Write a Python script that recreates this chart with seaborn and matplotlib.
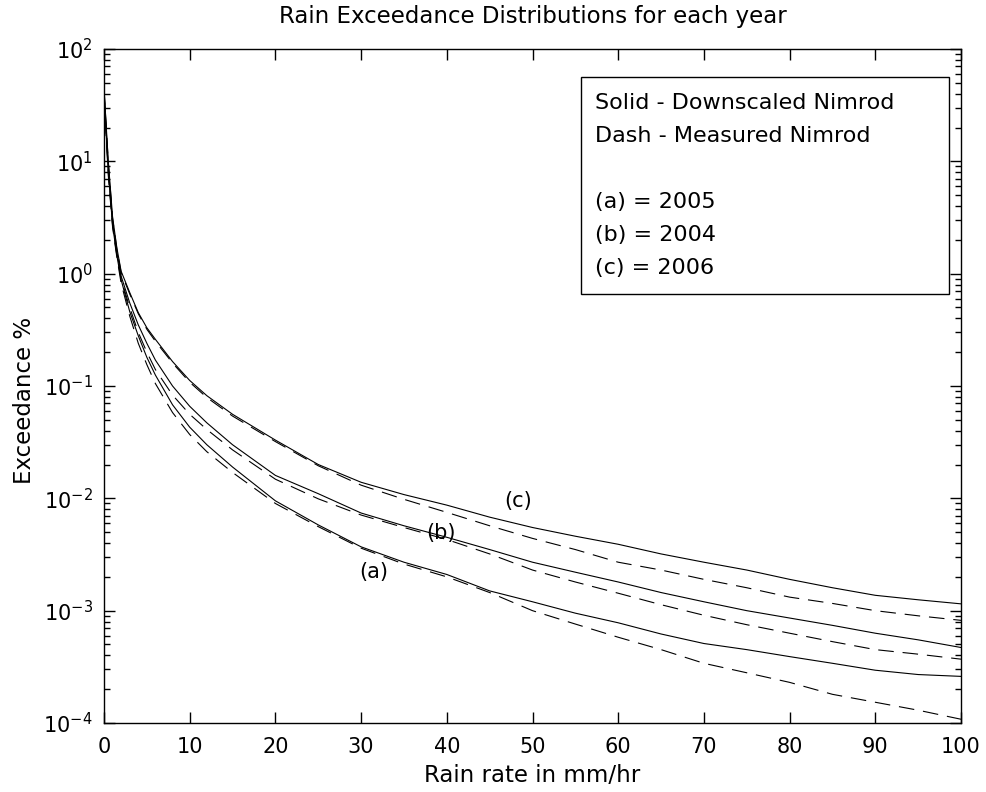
import numpy as np
import pandas as pd
import matplotlib
matplotlib.use("Agg")
import matplotlib.pyplot as plt
import seaborn as sns
from matplotlib.patches import Rectangle
from matplotlib.ticker import FixedLocator, FixedFormatter, NullFormatter

# ---------------- data ----------------
rain_rate = [0, 0.5, 1, 1.5, 2, 3, 4, 5, 6, 8, 10, 12, 15, 20, 25, 30, 35, 40,
             45, 50, 55, 60, 65, 70, 75, 80, 85, 90, 95, 100]

c_solid = [45, 10, 3.2, 1.7, 1.05, 0.68, 0.45, 0.33, 0.26, 0.165, 0.112, 0.082,
           0.056, 0.033, 0.020, 0.0139, 0.0108, 0.0087, 0.0068, 0.0055, 0.0046,
           0.0039, 0.0032, 0.0027, 0.0023, 0.0019, 0.0016, 0.00137, 0.00125, 0.00115]
c_dash = [44, 9.8, 3.1, 1.65, 1.02, 0.66, 0.44, 0.32, 0.25, 0.16, 0.108, 0.079,
          0.054, 0.032, 0.0195, 0.0131, 0.0098, 0.0075, 0.0057, 0.0044, 0.0035,
          0.0027, 0.0023, 0.0019, 0.0016, 0.00132, 0.00116, 0.00100, 0.00090, 0.00082]
b_solid = [42, 9, 2.9, 1.55, 0.95, 0.55, 0.35, 0.24, 0.17, 0.10, 0.066, 0.047,
           0.030, 0.016, 0.011, 0.0074, 0.0057, 0.0045, 0.0035, 0.0027, 0.0022,
           0.0018, 0.00145, 0.0012, 0.0010, 0.00086, 0.00074, 0.00063, 0.00055, 0.00047]
b_dash = [40, 8.5, 2.8, 1.5, 0.90, 0.50, 0.30, 0.20, 0.14, 0.083, 0.056, 0.041,
          0.027, 0.0148, 0.0099, 0.0071, 0.0055, 0.0043, 0.0032, 0.0023, 0.0018,
          0.00143, 0.00113, 0.00091, 0.00075, 0.00063, 0.00053, 0.00045, 0.00041, 0.00037]
a_solid = [40, 8, 2.7, 1.45, 0.88, 0.46, 0.28, 0.18, 0.125, 0.068, 0.043, 0.030,
           0.019, 0.0095, 0.0058, 0.0037, 0.0027, 0.0021, 0.0015, 0.0012, 0.00095,
           0.00078, 0.00062, 0.00051, 0.00045, 0.00039, 0.00034, 0.000295, 0.00027, 0.00026]
a_dash = [38, 7.5, 2.6, 1.4, 0.82, 0.42, 0.24, 0.155, 0.105, 0.058, 0.037, 0.026,
          0.017, 0.0090, 0.0056, 0.0036, 0.0026, 0.0020, 0.00145, 0.0010, 0.00076,
          0.00058, 0.00045, 0.00034, 0.00028, 0.00023, 0.00018, 0.000153, 0.00013, 0.000108]

x_ticks = [0, 10, 20, 30, 40, 50, 60, 70, 80, 90, 100]
y_ticks = [1e-4, 1e-3, 1e-2, 1e-1, 1e0, 1e1, 1e2]
y_tick_labels = ["$10^{-4}$", "$10^{-3}$", "$10^{-2}$", "$10^{-1}$",
                 "$10^{0}$", "$10^{1}$", "$10^{2}$"]

curve_labels = ["(a)", "(b)", "(c)"]
curve_label_x = [31.5, 39.3, 48.3]
curve_label_y = [2.2e-3, 4.9e-3, 9.4e-3]

legend_lines = ["Solid - Downscaled Nimrod", "Dash - Measured Nimrod", "",
                "(a) = 2005", "(b) = 2004", "(c) = 2006"]

title = "Rain Exceedance Distributions for each year"
xlabel = "Rain rate in mm/hr"
ylabel = "Exceedance %"

# ---------------- style ----------------
sns.set_style("ticks")
plt.rcParams["font.family"] = ["DejaVu Sans"]
plt.rcParams["mathtext.default"] = "regular"
plt.rcParams["font.size"] = 15
plt.rcParams["axes.linewidth"] = 1.0
plt.rcParams["text.color"] = "black"
plt.rcParams["xtick.color"] = "black"
plt.rcParams["ytick.color"] = "black"

W, H = 986, 792
fig = plt.figure(figsize=(W / 100, H / 100), dpi=100)
L, R, T, B = 104, 961, 49, 723
ax = fig.add_axes([L / W, 1 - B / H, (R - L) / W, (B - T) / H])

series = [(c_solid, "-"), (c_dash, "dash"), (b_solid, "-"), (b_dash, "dash"),
          (a_solid, "-"), (a_dash, "dash")]
for vals, ls in series:
    df = pd.DataFrame({"x": rain_rate, "y": vals})
    if ls == "-":
        sns.lineplot(data=df, x="x", y="y", ax=ax, color="black", lw=0.8,
                     estimator=None, sort=False)
    else:
        sns.lineplot(data=df, x="x", y="y", ax=ax, color="black", lw=0.8,
                     linestyle=(0, (14, 8)), estimator=None, sort=False)

ax.set_yscale("log")
ax.set_xlim(0, 100)
ax.set_ylim(1e-4, 1e2)
ax.xaxis.set_major_locator(FixedLocator(x_ticks))
ax.set_xticklabels([str(v) for v in x_ticks])
ax.yaxis.set_major_locator(FixedLocator(y_ticks))
ax.yaxis.set_major_formatter(FixedFormatter(y_tick_labels))
ax.yaxis.set_minor_formatter(NullFormatter())
ax.tick_params(which="both", direction="in", top=True, right=True,
               colors="black", labelsize=15, labelcolor="black")
ax.tick_params(which="major", length=8, width=1)
ax.tick_params(which="minor", length=4, width=1)
ax.tick_params(axis="x", pad=10)
ax.tick_params(axis="y", pad=8)
for s in ax.spines.values():
    s.set_visible(True)
    s.set_color("black")

ax.set_xlabel("")
ax.set_ylabel("")
fig.text(533 / W, 1 - 17 / H, title, ha="center", va="center", fontsize=16.5,
         color="black")
fig.text(532 / W, 1 - 775 / H, xlabel, ha="center", va="center", fontsize=16.5,
         color="black")
fig.text(25 / W, 1 - 400 / H, ylabel, ha="center", va="center", fontsize=16.5,
         rotation=90, color="black")

for lab, lx, ly in zip(curve_labels, curve_label_x, curve_label_y):
    ax.text(lx, ly, lab, ha="center", va="center", fontsize=15, color="black")

# legend-like box
bx0, by0, bx1, by1 = 581, 77, 949, 294
fig.patches.append(Rectangle((bx0 / W, 1 - by1 / H), (bx1 - bx0) / W,
                             (by1 - by0) / H, transform=fig.transFigure,
                             facecolor="white", edgecolor="black", lw=1.0,
                             zorder=5))
line_y0, line_dy = 103, 33
for i, t in enumerate(legend_lines):
    if t:
        fig.text(595 / W, 1 - (line_y0 + i * line_dy) / H, t, ha="left",
                 va="center", fontsize=16, zorder=6, color="black")

fig.savefig("out.png", dpi=100)
